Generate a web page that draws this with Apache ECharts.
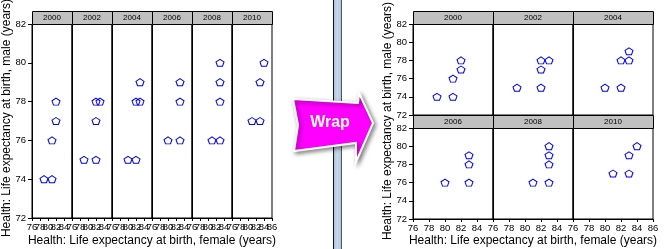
<!DOCTYPE html>
<html><head><meta charset="utf-8">
<script src="https://cdn.jsdelivr.net/npm/echarts@6/dist/echarts.min.js"></script>
<style>html,body{margin:0;padding:0;background:#fff}#c{width:664px;height:249px}</style>
</head><body><div id="c"></div>
<script>
// ---- data ----
const years = ['2000','2002','2004','2006','2008','2010'];
const femaleLE = [
  [79,81,81,82,82],
  [79,82,82,82,83],
  [80,82,82,83,83],
  [80,83,83,83],
  [81,83,83,83,83],
  [81,83,83,84]
];
const maleLE = [
  [74,74,76,77,78],
  [75,75,77,78,78],
  [75,75,78,78,79],
  [76,76,78,79],
  [76,76,78,79,80],
  [77,77,79,80]
];
const xTicks = [76,78,80,82,84,86];
const yTicks = [72,74,76,78,80,82];
const xTitle = 'Health: Life expectancy at birth, female (years)';
const yTitle = 'Health: Life expectancy at birth, male (years)';
const arrowLabel = 'Wrap';

// ---- layout ----
const FONT = "'Liberation Sans', Arial, sans-serif";
const panels = [];
years.forEach((y, i) => {
  panels.push({k: i, left: 32 + 40 * i, top: 24, w: 40, h: 194, showX: true, showMax: i === 5, showY: i === 0, narrow: true});
});
years.forEach((y, i) => {
  const c = i % 3, r = Math.floor(i / 3);
  panels.push({k: i, left: 413 + 80 * c, top: 24 + 104 * r, w: 80, h: 91, showX: r === 1, showMax: c === 2, showY: c === 0, narrow: false});
});

const pent = 'path://M0,-10 L9.51,-3.09 L5.88,8.09 L-5.88,8.09 L-9.51,-3.09 Z';
const grid = [], xAxis = [], yAxis = [], series = [], graphic = [], extraX = [];
const xMin = xTicks[0], xMax = xTicks[xTicks.length - 1], xInt = xTicks[1] - xTicks[0];
const labelBase = {margin: 4, fontSize: 9.5, fontFamily: FONT, color: '#000', hideOverlap: false};

panels.forEach((p, idx) => {
  grid.push({left: p.left, top: p.top, width: p.w, height: p.h, show: true, borderColor: '#000', borderWidth: 1, backgroundColor: '#fff'});
  let xl;
  if (p.narrow) {
    // labels overlap in the narrow panels: split them over two stacked axes so none is dropped
    const evenVals = xTicks.filter((v, j) => j % 2 === 0 && (p.showMax || v !== xMax));
    const oddVals = xTicks.filter((v, j) => j % 2 === 1 && (p.showMax || v !== xMax));
    xl = Object.assign({show: true, customValues: evenVals, showMinLabel: true, showMaxLabel: true}, labelBase);
    extraX.push({
      gridIndex: idx, type: 'value', position: 'bottom', offset: 0, min: xMin, max: xMax, interval: xInt,
      axisLine: {show: false}, axisTick: {show: false}, splitLine: {show: false},
      axisLabel: Object.assign({show: true, customValues: oddVals, showMinLabel: true, showMaxLabel: true}, labelBase)
    });
  } else {
    xl = Object.assign({show: p.showX, showMinLabel: true, showMaxLabel: p.showMax}, labelBase);
  }
  xAxis.push({
    gridIndex: idx, type: 'value', position: 'bottom', offset: 0, min: xMin, max: xMax, interval: xInt,
    axisLine: {show: true, onZero: false, lineStyle: {color: '#000', width: 1}},
    axisTick: {show: p.showX, length: 3, lineStyle: {color: '#000'}},
    axisLabel: xl,
    splitLine: {show: false}
  });
  yAxis.push({
    gridIndex: idx, type: 'value', min: yTicks[0], max: yTicks[yTicks.length - 1], interval: yTicks[1] - yTicks[0],
    axisLine: {show: true, onZero: false, lineStyle: {color: '#000', width: 1}},
    axisTick: {show: p.showY, length: 4, lineStyle: {color: '#000'}},
    axisLabel: {show: p.showY, showMinLabel: true, showMaxLabel: true, margin: 6, fontSize: 9.5, fontFamily: FONT, color: '#000'},
    splitLine: {show: false}
  });
  series.push({
    type: 'scatter', xAxisIndex: idx, yAxisIndex: idx,
    data: femaleLE[p.k].map((x, j) => [x, maleLE[p.k][j]]),
    symbol: pent, symbolSize: [8, 7],
    itemStyle: {color: 'rgba(255,255,255,0)', borderColor: '#0000ff', borderWidth: 1, opacity: 1},
    emphasis: {disabled: true}
  });
  // header strip
  graphic.push({type: 'rect', z: 10, shape: {x: p.left + 0.5, y: p.top - 13 + 0.5, width: p.w, height: 13},
    style: {fill: '#c0c0c0', stroke: '#000', lineWidth: 1}});
  graphic.push({type: 'text', z: 11, x: p.left + p.w / 2, y: p.top - 6,
    style: {text: years[p.k], font: '8px ' + FONT, fill: '#000', align: 'center', verticalAlign: 'middle', textAlign: 'center', textVerticalAlign: 'middle'}});
});
extraX.forEach(a => xAxis.push(a));

// axis titles
graphic.push({type: 'text', z: 11, x: 152, y: 241,
  style: {text: xTitle, font: '12px ' + FONT, fill: '#000', align: 'center', verticalAlign: 'middle', textAlign: 'center', textVerticalAlign: 'middle'}});
graphic.push({type: 'text', z: 11, x: 533, y: 241,
  style: {text: xTitle, font: '12px ' + FONT, fill: '#000', align: 'center', verticalAlign: 'middle', textAlign: 'center', textVerticalAlign: 'middle'}});
graphic.push({type: 'text', z: 11, x: 7, y: 118, rotation: Math.PI / 2,
  style: {text: yTitle, font: '12px ' + FONT, fill: '#000', align: 'center', verticalAlign: 'middle', textAlign: 'center', textVerticalAlign: 'middle'}});
graphic.push({type: 'text', z: 11, x: 388, y: 121, rotation: Math.PI / 2,
  style: {text: yTitle, font: '12px ' + FONT, fill: '#000', align: 'center', verticalAlign: 'middle', textAlign: 'center', textVerticalAlign: 'middle'}});

// separator bar
graphic.push({type: 'rect', z: 20, shape: {x: 333, y: 0, width: 9, height: 249},
  style: {fill: {type: 'linear', x: 0, y: 0, x2: 1, y2: 0, colorStops: [
    {offset: 0, color: '#a9bfd8'}, {offset: 0.5, color: '#c9d8ea'}, {offset: 1, color: '#a9bfd8'}]}}});
graphic.push({type: 'line', z: 21, shape: {x1: 333.5, y1: 0, x2: 333.5, y2: 249}, style: {stroke: '#111', lineWidth: 1}});
graphic.push({type: 'line', z: 21, shape: {x1: 341.5, y1: 0, x2: 341.5, y2: 249}, style: {stroke: '#555', lineWidth: 1}});

// arrow
graphic.push({type: 'polygon', z: 30,
  shape: {points: [[293, 99], [358, 103], [359, 93], [373, 123], [356, 162], [356, 143], [294, 151], [298, 125]]},
  style: {fill: '#ff00ff', stroke: '#ffffff', lineWidth: 2, shadowBlur: 4, shadowColor: 'rgba(0,0,0,0.45)', shadowOffsetX: 2, shadowOffsetY: 2}});
graphic.push({type: 'text', z: 31, x: 330, y: 123,
  style: {text: arrowLabel, font: 'bold 16px ' + FONT, fill: '#fff', align: 'center', verticalAlign: 'middle', textAlign: 'center', textVerticalAlign: 'middle'}});

const chart = echarts.init(document.getElementById('c'), null, {renderer: 'canvas'});
chart.setOption({animation: false, backgroundColor: '#fff', grid, xAxis, yAxis, series, graphic});
</script>
</body></html>
